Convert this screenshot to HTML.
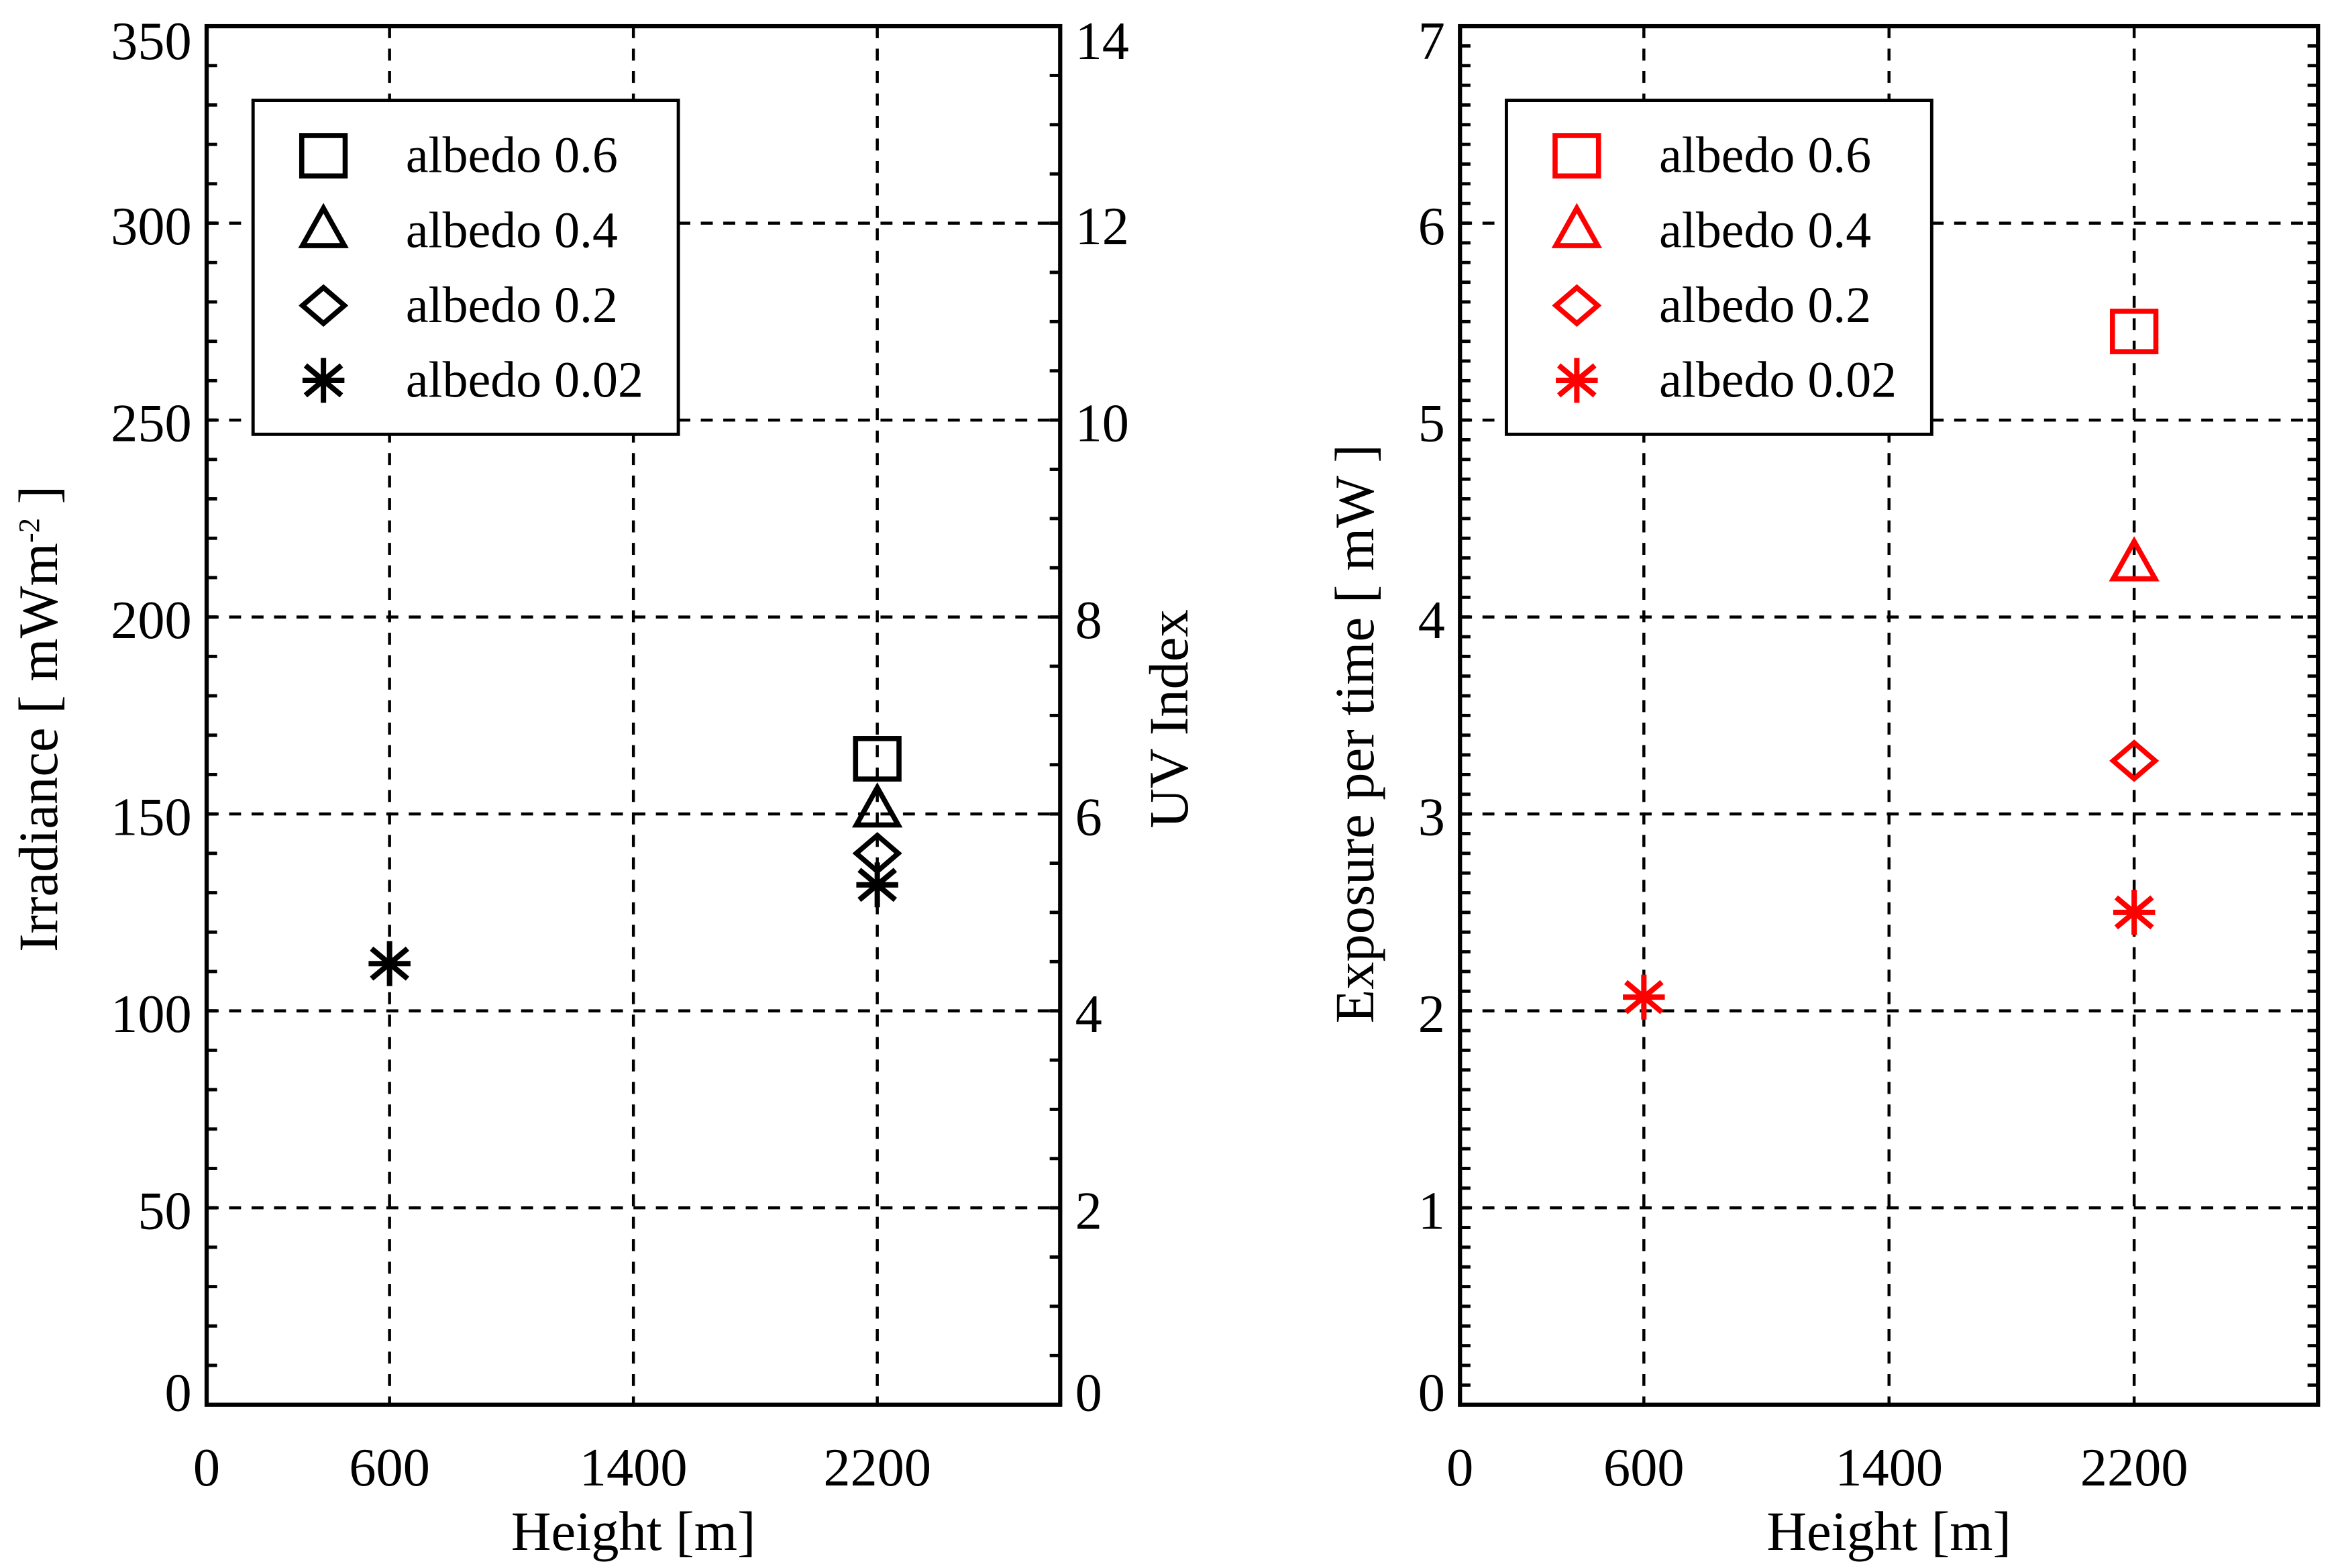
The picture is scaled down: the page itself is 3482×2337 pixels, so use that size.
<!DOCTYPE html>
<html><head><meta charset="utf-8"><style>
html,body{margin:0;padding:0;background:#fff;}
svg{display:block;}
text{font-family:"Liberation Serif",serif;}
</style></head><body>
<svg id="fig" width="3482" height="2337" viewBox="0 0 1560 1047" preserveAspectRatio="none" xmlns="http://www.w3.org/2000/svg">
<rect x="0" y="0" width="1560" height="1047" fill="#fff"/>
</svg>
<script>
// ---- data ----
const heightsTicks = [0, 600, 1400, 2200];
const gridX = [600, 1400, 2200];
const seriesLabels = ["albedo 0.6", "albedo 0.4", "albedo 0.2", "albedo 0.02"];
const seriesMarkers = ["square", "triangle", "diamond", "asterisk"];
// Irradiance (left plot)
const irrSquareX = [2200];   const irrSquareY = [164];
const irrTriX = [2200];      const irrTriY = [151];
const irrDiaX = [2200];      const irrDiaY = [140];
const irrAstX = [600, 2200]; const irrAstY = [112, 132];
const irrTicks = [0, 50, 100, 150, 200, 250, 300, 350];
const uvTicks = [0, 2, 4, 6, 8, 10, 12, 14];
// Exposure (right plot)
const expSquareX = [2200];   const expSquareY = [5.45];
const expTriX = [2200];      const expTriY = [4.27];
const expDiaX = [2200];      const expDiaY = [3.27];
const expAstX = [600, 2200]; const expAstY = [2.07, 2.5];
const expTicks = [0, 1, 2, 3, 4, 5, 6, 7];

const NS = "http://www.w3.org/2000/svg";
const svg = document.getElementById("fig");
function mk(tag, attrs, parent) {
  const e = document.createElementNS(NS, tag);
  for (const k in attrs) e.setAttribute(k, attrs[k]);
  (parent || svg).appendChild(e);
  return e;
}
const TOP = 17.5, BOT = 938;
const FS = 36;

function marker(g, type, cx, cy, color, name) {
  const s = 14.5; let e;
  if (type === "square") {
    e = mk("rect", {x: cx - s, y: cy - s + 1, width: 2 * s, height: 2 * s - 2, fill: "none", stroke: color, "stroke-width": 3.4}, g);
  } else if (type === "triangle") {
    e = mk("polygon", {points: `${cx},${cy - 15} ${cx - 14},${cy + 10} ${cx + 14},${cy + 10}`, fill: "none", stroke: color, "stroke-width": 3.4}, g);
  } else if (type === "diamond") {
    e = mk("polygon", {points: `${cx},${cy - 12} ${cx + 14},${cy} ${cx},${cy + 12} ${cx - 14},${cy}`, fill: "none", stroke: color, "stroke-width": 3.4}, g);
  } else {
    e = mk("path", {d: `M${cx - 14},${cy}H${cx + 14}M${cx},${cy - 15}V${cy + 15}M${cx - 12},${cy - 10}L${cx + 12},${cy + 10}M${cx - 12},${cy + 10}L${cx + 12},${cy - 10}`, fill: "none", stroke: color, "stroke-width": 3.6}, g);
  }
  
  
  return e;
}

function labelY(y) {
  if (y < TOP + 2) return y + 10;
  if (y > BOT - 2) return y - 8;
  return y + 2;
}

function panel(opt) {
  const g = mk("g", {});
  
  
  const X0 = opt.x0, X1 = opt.x1;
  const xs = v => X0 + (v / 2800) * (X1 - X0);
  const ys = v => BOT - (v / opt.ymax) * (BOT - TOP);
  gridX.forEach(v => {
    const l = mk("line", {x1: xs(v), x2: xs(v), y1: TOP, y2: BOT, stroke: "#000", "stroke-width": 2, "stroke-dasharray": "8,7"}, g);
    
    
  });
  opt.yticks.forEach(v => {
    if (v === 0 || v === opt.ymax) return;
    const l = mk("line", {x1: X0, x2: X1, y1: ys(v), y2: ys(v), stroke: "#000", "stroke-width": 2, "stroke-dasharray": "8,7"}, g);
    
    
  });
  for (let v = 0; v <= opt.ymax + 1e-9; v += opt.minor) {
    const t = mk("line", {x1: X0, x2: X0 + 7, y1: ys(v), y2: ys(v), stroke: "#000", "stroke-width": 2.2}, g);
    
    
  }
  const rmax = opt.rmax || opt.ymax, rminor = opt.rminor || opt.minor;
  for (let v = 0; v <= rmax + 1e-9; v += rminor) {
    const yy = BOT - (v / rmax) * (BOT - TOP);
    const t = mk("line", {x1: X1 - 7, x2: X1, y1: yy, y2: yy, stroke: "#000", "stroke-width": 2.2}, g);
    
    
  }
  const f = mk("rect", {x: X0, y: TOP, width: X1 - X0, height: BOT - TOP, fill: "none", stroke: "#000", "stroke-width": 2.8}, g);
  
  
  opt.yticks.forEach(v => {
    const t = mk("text", {x: X0 - 10, y: labelY(ys(v)) + 12, "text-anchor": "end", "font-size": FS}, g);
    t.textContent = v;
    
    
  });
  if (opt.rticks) {
    opt.rticks.forEach(v => {
      const yy = BOT - (v / rmax) * (BOT - TOP);
      const t = mk("text", {x: X1 + 10, y: labelY(yy) + 12, "text-anchor": "start", "font-size": FS}, g);
      t.textContent = v;
      
      
    });
  }
  heightsTicks.forEach(v => {
    const t = mk("text", {x: xs(v), y: 992, "text-anchor": "middle", "font-size": FS}, g);
    t.textContent = v;
    
    
  });
  const xt = mk("text", {x: (X0 + X1) / 2, y: 1035, "text-anchor": "middle", "font-size": 37}, g);
  xt.textContent = "Height [m]";
  
  
  const yt = mk("text", {transform: `translate(${opt.ytx},${opt.yty}) rotate(-90)`, "text-anchor": "middle", "font-size": 37}, g);
  yt.innerHTML = opt.ytitle;
  
  
  if (opt.rtitle) {
    const rt = mk("text", {transform: `translate(${X1 + 85},480) rotate(-90)`, "text-anchor": "middle", "font-size": 37}, g);
    rt.textContent = opt.rtitle;
    
    
  }
  const lg = mk("g", {}, g);
  
  
  mk("rect", {x: X0 + 31, y: 67, width: 284, height: 223, fill: "#fff", stroke: "#000", "stroke-width": 2.2}, lg);
  seriesLabels.forEach((lab, i) => {
    const cy = 104 + i * 50;
    marker(lg, seriesMarkers[i], X0 + 78, cy, opt.color, 'legend-marker-' + seriesMarkers[i]);
    const t = mk("text", {x: X0 + 133, y: cy + 11, "font-size": 34}, lg);
    t.textContent = lab;
    
    
  });
  const sets = [[opt.sx, opt.sy, "square"], [opt.tx, opt.ty, "triangle"], [opt.dx, opt.dy, "diamond"], [opt.ax, opt.ay, "asterisk"]];
  sets.forEach(([xa, ya, m]) => {
    xa.forEach((xv, i) => marker(g, m, xs(xv), ys(ya[i]), opt.color, 'point-' + m + '-' + xv));
  });
}

panel({name: "irradiance-panel", x0: 138, x1: 708, ymax: 350, minor: 10, yticks: irrTicks,
  rticks: uvTicks, rmax: 14, rminor: 0.5, rtitle: "UV Index",
  ytitle: 'Irradiance [ mWm<tspan dy="-12" font-size="20">-2</tspan><tspan dy="12"> ]</tspan>', ytx: 38, yty: 480,
  color: "#000",
  sx: irrSquareX, sy: irrSquareY, tx: irrTriX, ty: irrTriY, dx: irrDiaX, dy: irrDiaY, ax: irrAstX, ay: irrAstY});
panel({name: "exposure-panel", x0: 975, x1: 1548, ymax: 7, minor: 0.1, yticks: expTicks,
  ytitle: "Exposure per time [ mW ]", ytx: 917, yty: 490, color: "#f00",
  sx: expSquareX, sy: expSquareY, tx: expTriX, ty: expTriY, dx: expDiaX, dy: expDiaY, ax: expAstX, ay: expAstY});
</script>
</body></html>
